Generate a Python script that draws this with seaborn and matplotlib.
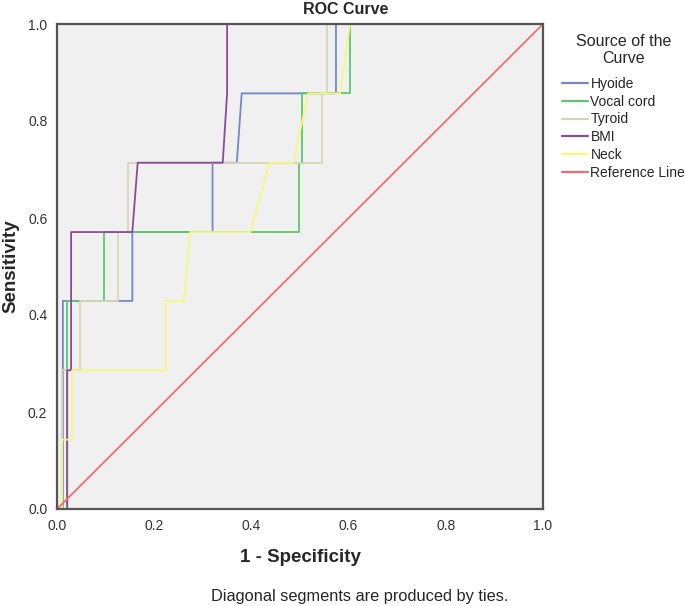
import matplotlib
matplotlib.use("Agg")
import matplotlib.pyplot as plt
import seaborn as sns
import pandas as pd
from matplotlib.lines import Line2D

# ---- data ----
curve_names = ["Hyoide", "Vocal cord", "Tyroid", "BMI", "Neck", "Reference Line"]

hyoide_fpr = [0, 0.012, 0.012, 0.155, 0.155, 0.320, 0.320, 0.370, 0.380, 0.574, 0.574, 1]
hyoide_tpr = [0, 0, 0.429, 0.429, 0.571, 0.571, 0.714, 0.714, 0.857, 0.857, 1, 1]

vocal_fpr = [0, 0.021, 0.021, 0.097, 0.097, 0.497, 0.497, 0.505, 0.505, 0.603, 0.603, 1]
vocal_tpr = [0, 0, 0.429, 0.429, 0.571, 0.571, 0.714, 0.714, 0.857, 0.857, 1, 1]

tyroid_fpr = [0, 0.010, 0.010, 0.048, 0.048, 0.126, 0.126, 0.147, 0.147, 0.545, 0.545, 0.555, 0.555, 1]
tyroid_tpr = [0, 0, 0.286, 0.286, 0.429, 0.429, 0.571, 0.571, 0.714, 0.714, 0.857, 0.857, 1, 1]

bmi_fpr = [0, 0.021, 0.021, 0.029, 0.029, 0.155, 0.166, 0.341, 0.350, 0.350, 1]
bmi_tpr = [0, 0, 0.286, 0.286, 0.571, 0.571, 0.714, 0.714, 0.857, 1, 1]

neck_fpr = [0, 0.010, 0.010, 0.031, 0.031, 0.224, 0.224, 0.261, 0.274, 0.398, 0.437, 0.486, 0.517, 0.582, 0.603, 1]
neck_tpr = [0, 0, 0.143, 0.143, 0.286, 0.286, 0.429, 0.429, 0.571, 0.571, 0.714, 0.714, 0.857, 0.857, 1, 1]

ref_fpr = [0, 1]
ref_tpr = [0, 1]

tick_values = [0.0, 0.2, 0.4, 0.6, 0.8, 1.0]
tick_labels = ["0.0", "0.2", "0.4", "0.6", "0.8", "1.0"]

colors = ["#7487c9", "#5cc96a", "#d8d5b6", "#8e4a9a", "#f7f77e", "#f26d6d"]

# ---- build long table ----
series = [(hyoide_fpr, hyoide_tpr), (vocal_fpr, vocal_tpr), (tyroid_fpr, tyroid_tpr),
          (bmi_fpr, bmi_tpr), (neck_fpr, neck_tpr), (ref_fpr, ref_tpr)]
rows = []
for name, (fx, ty) in zip(curve_names, series):
    for i, (a, b) in enumerate(zip(fx, ty)):
        rows.append({"Source": name, "order": i, "fpr": a, "tpr": b})
df = pd.DataFrame(rows)

sns.set_theme(style="white")
plt.rcParams["font.family"] = ["Liberation Sans", "DejaVu Sans"]

fig = plt.figure(figsize=(6.85, 6.06), dpi=100)
ax = fig.add_axes([57 / 685, 1 - 509 / 606, 486 / 685, 485 / 606])
ax.set_facecolor("#f0f0f0")

sns.lineplot(data=df, x="fpr", y="tpr", hue="Source", hue_order=curve_names,
             palette=colors, sort=False, estimator=None, units="Source",
             linewidth=1.3, ax=ax, legend=False)

ax.set_xlim(0, 1)
ax.set_ylim(0, 1)
ax.set_xticks(tick_values)
ax.set_xticklabels(tick_labels)
ax.set_yticks(tick_values)
ax.set_yticklabels(tick_labels)
ax.tick_params(axis="both", direction="out", length=5, width=1.3, color="#444444",
               labelsize=10, labelcolor="#333333", pad=2)
for s in ax.spines.values():
    s.set_color("#555555")
    s.set_linewidth(1.6)

ax.set_xlabel("1 - Specificity", fontsize=13.5, fontweight="bold", labelpad=12)
ax.set_ylabel("Sensitivity", fontsize=13.5, fontweight="bold", labelpad=6)

fig.text(0.505, 1 - 10 / 606, "ROC Curve", ha="center", va="center",
         fontsize=11.5, fontweight="bold")
fig.text(360 / 685, 1 - 597 / 606, "Diagonal segments are produced by ties.",
         ha="center", va="center", fontsize=11.8)

# legend title drawn separately, entries via legend
fig.text(624 / 685, 1 - 50 / 606, "Source of the\nCurve", ha="center", va="center",
         fontsize=11.5, linespacing=1.1)
handles = [Line2D([0], [0], color=c, lw=1.6) for c in colors]
leg = fig.legend(handles, curve_names, loc="upper left",
                 bbox_to_anchor=(562 / 685, 1 - 77 / 606), frameon=False,
                 fontsize=10, handlelength=1.9, handletextpad=0.15,
                 labelspacing=0.27, borderaxespad=0, borderpad=0)

fig.savefig("out.png", dpi=100)
